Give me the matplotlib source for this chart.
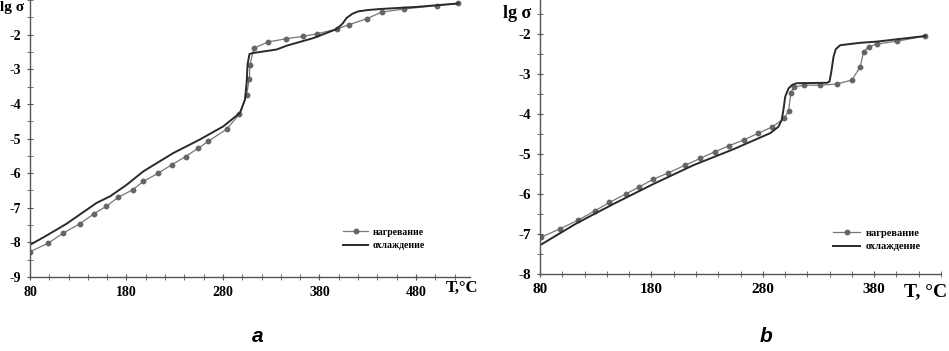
import matplotlib
matplotlib.use('Agg')
import matplotlib.pyplot as plt
from matplotlib.ticker import MultipleLocator

# panel a
T_a_heat = [80, 99, 114.5, 131.8, 146.6, 158.8, 171.5, 186.4, 197.5, 213, 226.8, 241.3, 254.4, 264.8,
            283.8, 297, 304.5, 307.3, 308, 312, 327, 345.3, 362.6, 377, 397.8, 411, 429, 444.4, 467.6, 501.4, 524]
lg_a_heat = [-8.27, -8.02, -7.73, -7.46, -7.17, -6.96, -6.70, -6.48, -6.24, -6.0, -5.76, -5.52, -5.28, -5.08,
             -4.73, -4.3, -3.73, -3.28, -2.87, -2.39, -2.21, -2.12, -2.05, -1.98, -1.84, -1.71, -1.54, -1.35, -1.26, -1.16, -1.1]
T_a_cool = [80, 95.5, 118, 149, 163, 180, 197.4, 228.5, 256, 280.3, 297.6, 302.8, 304.5, 305.5, 307.5, 311.4,
            335.6, 346, 373.6, 397.8, 404, 408, 414, 420, 430, 443, 480.7, 524]
lg_a_cool = [-8.07, -7.83, -7.46, -6.86, -6.67, -6.34, -5.95, -5.42, -5.03, -4.65, -4.26, -3.88, -3.40, -2.85, -2.56, -2.53,
             -2.43, -2.32, -2.10, -1.84, -1.68, -1.52, -1.40, -1.33, -1.29, -1.26, -1.2, -1.1]

# panel b
T_b_heat = [81, 98, 114.4, 129.4, 142.3, 157, 169.2, 181.8, 195.3, 210.3, 223.8, 237.2, 250, 262.7, 276.1,
            288.7, 299.2, 303.1, 305.2, 307.6, 316.6, 331.6, 346.6, 360, 367.5, 370.5, 375, 382.5, 400.5, 426]
lg_b_heat = [-7.08, -6.87, -6.65, -6.42, -6.21, -6.0, -5.82, -5.63, -5.47, -5.28, -5.11, -4.94, -4.79, -4.65, -4.48,
             -4.32, -4.11, -3.93, -3.48, -3.33, -3.28, -3.28, -3.25, -3.15, -2.82, -2.44, -2.32, -2.25, -2.18, -2.05]
T_b_cool = [80, 113, 145.9, 181.8, 217.7, 253.7, 286.6, 294, 297, 298.8, 300.1, 303.1, 306.5, 310.6, 337.6, 339.9,
            341.5, 343.5, 345.5, 349.5, 367.5, 382.5, 426]
lg_b_cool = [-7.28, -6.73, -6.25, -5.75, -5.28, -4.88, -4.48, -4.32, -4.15, -3.85, -3.57, -3.36, -3.27, -3.23, -3.22, -3.19,
             -2.95, -2.57, -2.38, -2.28, -2.22, -2.19, -2.05]

labels = ['нагревание', 'охлаждение']

plt.rcParams['axes.unicode_minus'] = False
plt.rcParams['font.family'] = ['Liberation Serif', 'DejaVu Serif']
plt.rcParams['font.weight'] = 'bold'

fig = plt.figure(figsize=(9.49, 3.51), dpi=100)
axa = fig.add_axes([30/949, 74/351, 440/949, 277/351])
axb = fig.add_axes([540/949, 77/351, 401/949, 274/351])


def style(ax, xlim, ylim, fs):
	for s in ['top', 'right']:
		ax.spines[s].set_visible(False)
	for s in ['left', 'bottom']:
		ax.spines[s].set_color('#555555')
		ax.spines[s].set_linewidth(1.0)
	ax.set_xlim(*xlim)
	ax.set_ylim(*ylim)
	ax.xaxis.set_major_locator(MultipleLocator(100))
	ax.xaxis.set_minor_locator(MultipleLocator(20))
	ax.yaxis.set_major_locator(MultipleLocator(1))
	ax.yaxis.set_minor_locator(MultipleLocator(0.5))
	ax.tick_params(which='both', direction='inout', color='#555555', labelsize=fs, pad=4)
	ax.tick_params(which='major', length=5)
	ax.tick_params(which='minor', length=4)
	ax.set_yticks([t for t in range(int(ylim[0]), -1)])


heat_kw = dict(color='#777777', lw=0.9, marker='o', ms=3.2, mfc='#666666', mec='#666666')
cool_kw = dict(color='#2a2a2a', lw=1.4)

axa.plot(T_a_heat, lg_a_heat, label=labels[0], **heat_kw)
axa.plot(T_a_cool, lg_a_cool, label=labels[1], **cool_kw)
style(axa, (80, 536), (-9, -1), 10)
axa.set_xticks([80, 180, 280, 380, 480])

axb.plot(T_b_heat, lg_b_heat, label=labels[0], **heat_kw)
axb.plot(T_b_cool, lg_b_cool, label=labels[1], **cool_kw)
style(axb, (80, 440), (-8, -1.15), 11)
axb.set_xticks([80, 180, 280, 380])

axa.legend(loc='upper left', bbox_to_anchor=(338/949, 1-223/351), bbox_transform=fig.transFigure,
           frameon=False, fontsize=7, handlelength=2.6, handletextpad=0.5, labelspacing=0.45, borderpad=0)
axb.legend(loc='upper left', bbox_to_anchor=(828/949, 1-223/351), bbox_transform=fig.transFigure,
           frameon=False, fontsize=7.5, handlelength=2.6, handletextpad=0.5, labelspacing=0.45, borderpad=0)

fig.text(0/949, 1-8/351, 'lg σ', fontsize=11, va='center', ha='left')
fig.text(503/949, 1-14/351, 'lg σ', fontsize=13, va='center', ha='left')
fig.text(446/949, 1-288/351, 'T,°C', fontsize=12, va='center', ha='left')
fig.text(904/949, 1-292/351, 'T, °C', fontsize=14, va='center', ha='left')
fig.text(258/949, 1-337/351, 'a', fontsize=15, va='center', ha='center',
         family='Liberation Sans', style='italic', weight='bold')
fig.text(766/949, 1-337/351, 'b', fontsize=15, va='center', ha='center',
         family='Liberation Sans', style='italic', weight='bold')

fig.savefig('out.png', dpi=100)
